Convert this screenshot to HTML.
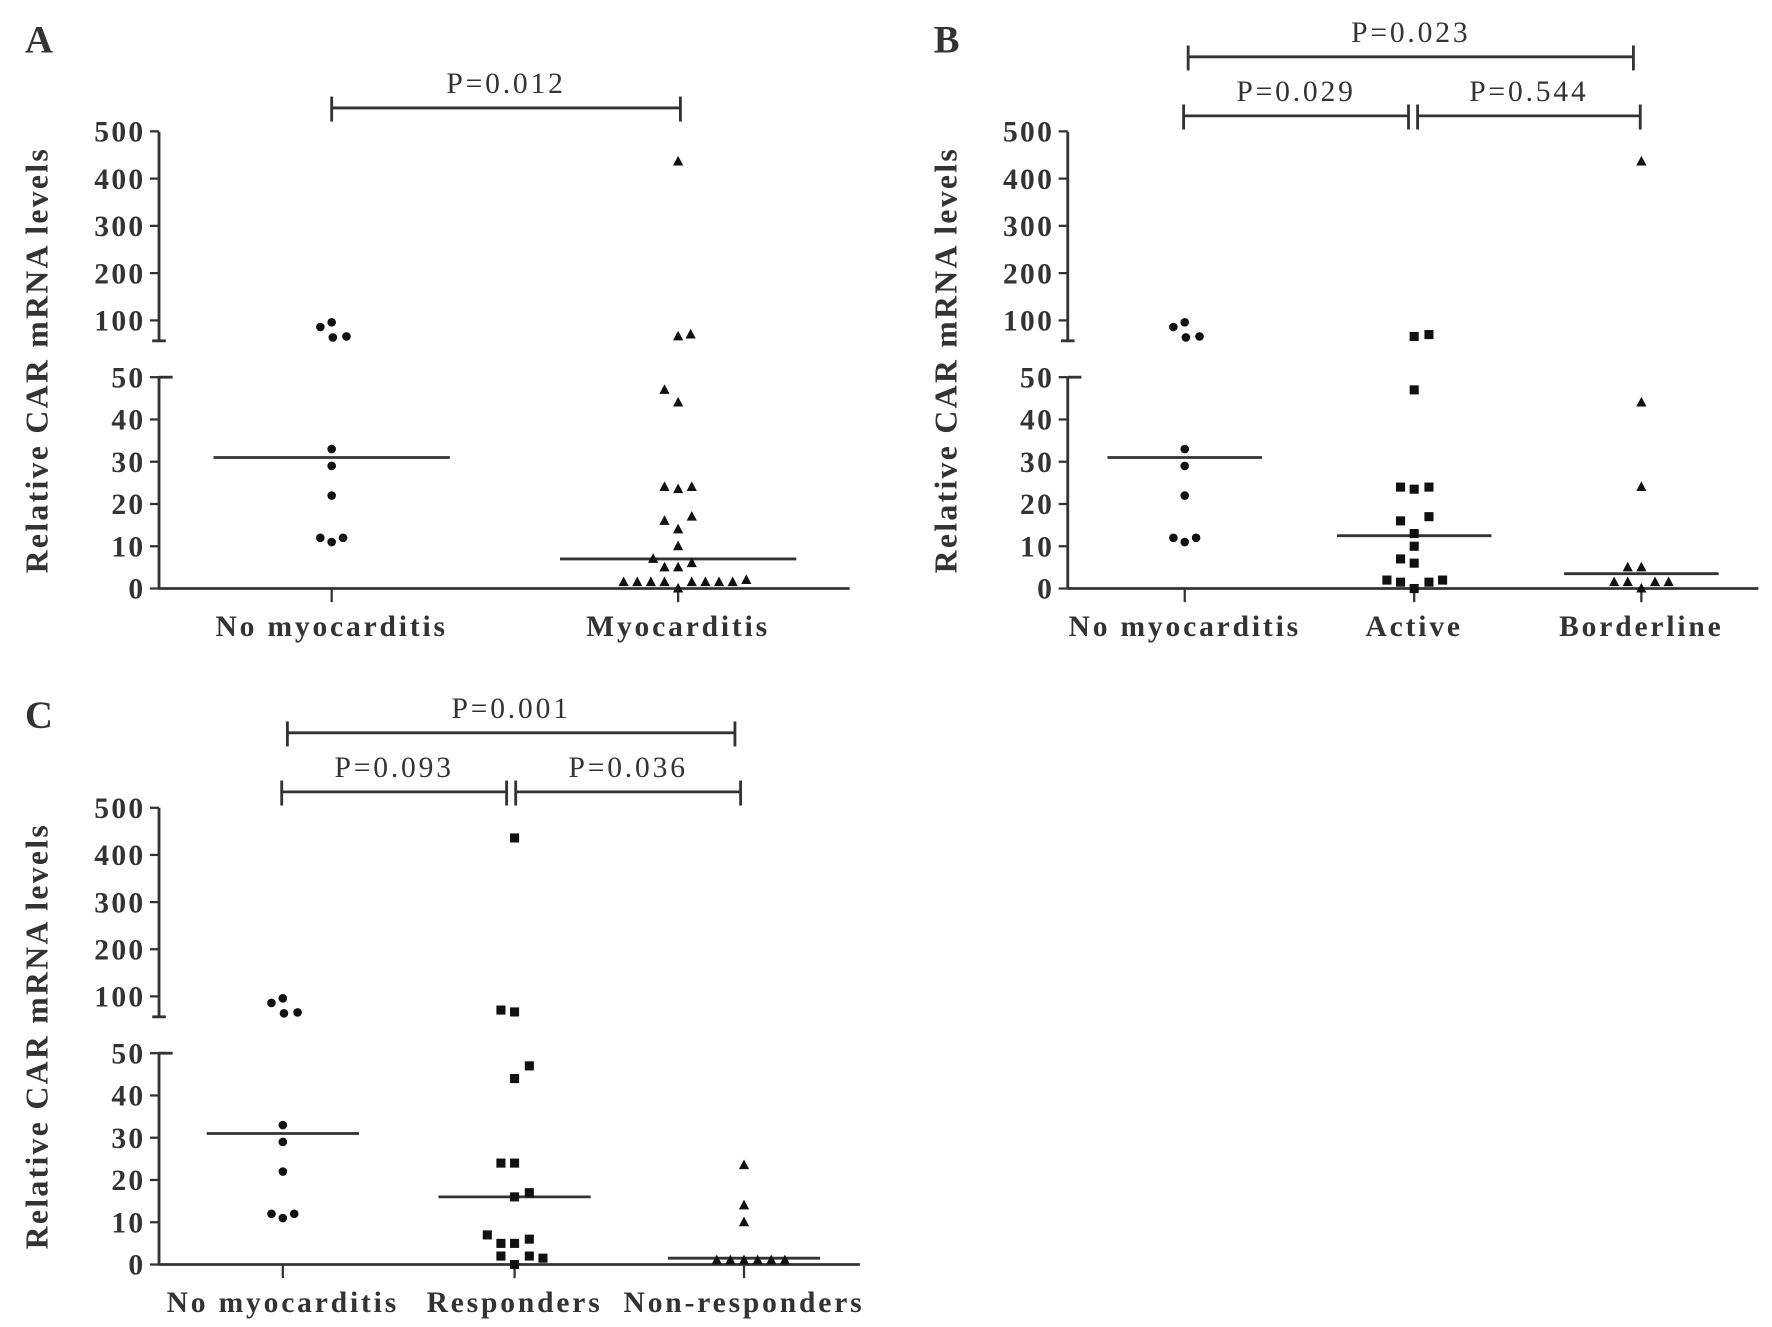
<!DOCTYPE html>
<html><head><meta charset="utf-8"><style>
html,body{margin:0;padding:0;background:#fff;}
svg{display:block;}
text{font-family:"Liberation Serif",serif;fill:#333;}
</style></head><body>
<svg id="fig" width="1772" height="1327" viewBox="0 0 1560 1168" preserveAspectRatio="none" xmlns="http://www.w3.org/2000/svg"></svg>
<script>
// ---- data (value, x-offset jitter in px) ----
const noMyoValues = [86,96,64,66,33,29,22,12,11,12];
const noMyoJitter = [-10,0,1,13,0,0,0,-10,0,10];
const myoValues = [436,66,70,47,44,24,23.5,24,17,16,14,10,7,5,5,6,1.5,1.5,1.5,1.5,0,1.5,1.5,1.5,1.5,2];
const myoJitter = [0,0,11,-12,0,-12,0,12,12,-12,0,0,-22,-12,0,12,-48,-36,-24,-12,0,12,24,36,48,60];
const activeValues = [66,70,47,24,23.5,24,17,16,13,10,7,6,2,1.5,0,1.5,2];
const activeJitter = [0,13,0,-12,0,13,13,-12,0,0,-12,0,-24,-12,0,13,25];
const borderValues = [436,44,24,5,5,1.5,1.5,0,1.5,1.5];
const borderJitter = [0,0,0,-12,0,-24,-12,0,12,24];
const respValues = [436,71,67,47,44,24,24,17,16,7,5,5,6,2,0,2,1.5];
const respJitter = [0,-12,0,13,0,-12,0,13,0,-24,-12,0,13,-12,0,13,25];
const nonRespValues = [23.5,14,10,1,1,1,1,1,1];
const nonRespJitter = [0,0,0,-24,-12,0,12,24,36];
const mediansA = [31,7];
const mediansB = [31,12.5,3.5];
const mediansC = [31,16,1.5];
const lowTicks = [0,10,20,30,40,50];
const highTicks = [100,200,300,400,500];

const svg = document.getElementById('fig');
const NS = 'http://www.w3.org/2000/svg';
function el(tag, attrs, parent){
  const e = document.createElementNS(NS, tag);
  for (const k in attrs) e.setAttribute(k, attrs[k]);
  (parent||svg).appendChild(e); return e;
}
function panel(cfg){
  const g = el('g', {});
  
  
  const y = v => v <= 50 ? cfg.y0 - v*(cfg.y0-cfg.y50)/50 : (v < 100 ? cfg.y100 + (100-v)*cfg.hs/100 : cfg.y100 - (v-100)*cfg.hs/100);
  const c = '#333';
  const L = el('text', {x:cfg.ax-118, y:cfg.y500-70, 'font-size':34, 'font-weight':'bold'}, g);
  L.textContent = cfg.letter;
  
  
  el('line', {x1:cfg.ax, y1:cfg.y0, x2:cfg.ax, y2:cfg.y50, stroke:c, 'stroke-width':2.5}, g);
  el('line', {x1:cfg.ax, y1:cfg.y50, x2:cfg.ax+12, y2:cfg.y50, stroke:c, 'stroke-width':2.5}, g);
  el('line', {x1:cfg.ax, y1:cfg.yb, x2:cfg.ax, y2:cfg.y500, stroke:c, 'stroke-width':2.5}, g);
  el('line', {x1:cfg.ax-6, y1:cfg.yb, x2:cfg.ax+6, y2:cfg.yb, stroke:c, 'stroke-width':2.5}, g);
  el('line', {x1:cfg.ax, y1:cfg.y0, x2:cfg.axEnd, y2:cfg.y0, stroke:c, 'stroke-width':2.5}, g);
  const ticks = lowTicks.concat(highTicks);
  ticks.forEach(t=>{
    const yy = t<=50 ? y(t) : cfg.y100 - (t-100)*cfg.hs/100;
    el('line', {x1:cfg.ax-8, y1:yy, x2:cfg.ax, y2:yy, stroke:c, 'stroke-width':2}, g);
    const tx = el('text', {x:cfg.ax-12, y:yy+9, 'font-size':26, 'font-weight':'bold', 'text-anchor':'end', 'letter-spacing':'2'}, g);
    tx.textContent = t;
    
    
  });
  const yt = el('text', {x:0, y:0, 'font-size':28, 'font-weight':'bold', 'text-anchor':'middle', 'letter-spacing':'2', transform:`translate(${cfg.ax-98},${(cfg.y0+cfg.y500)/2}) rotate(-90)`}, g);
  yt.textContent = 'Relative CAR mRNA levels';
  
  
  cfg.groups.forEach((gr, i)=>{
    const cx = cfg.cats[i];
    el('line', {x1:cx, y1:cfg.y0, x2:cx, y2:cfg.y0+12, stroke:c, 'stroke-width':2}, g);
    const ct = el('text', {x:cx, y:cfg.y0+42, 'font-size':26, 'font-weight':'bold', 'text-anchor':'middle', 'letter-spacing':'2.5'}, g);
    ct.textContent = gr.name;
    
    
    const m = el('line', {x1:cx-cfg.mw, y1:y(cfg.medians[i]), x2:cx+cfg.mw, y2:y(cfg.medians[i]), stroke:c, 'stroke-width':2.5}, g);
    
    
    gr.vals.forEach((v,j)=>{
      const px = cx + gr.jit[j], py = y(v);
      let mk;
      if (gr.shape==='circle') mk = el('circle', {cx:px, cy:py, r:3.8, fill:'#111'}, g);
      else if (gr.shape==='square') mk = el('rect', {x:px-4, y:py-4, width:8, height:8, fill:'#111'}, g);
      else mk = el('polygon', {points:`${px},${py-5} ${px-4.5},${py+3.5} ${px+4.5},${py+3.5}`, fill:'#111'}, g);
      
      
    });
  });
  cfg.brackets.forEach(b=>{
    el('line', {x1:b[0], y1:b[2], x2:b[1], y2:b[2], stroke:c, 'stroke-width':2.5}, g);
    el('line', {x1:b[0], y1:b[2]-10, x2:b[0], y2:b[2]+12, stroke:c, 'stroke-width':2.5}, g);
    el('line', {x1:b[1], y1:b[2]-10, x2:b[1], y2:b[2]+12, stroke:c, 'stroke-width':2.5}, g);
    const pt = el('text', {x:(b[0]+b[1])/2, y:b[2]-13, 'font-size':26, 'text-anchor':'middle', 'letter-spacing':'2.5'}, g);
    pt.textContent = b[3];
    
    
  });
}
panel({letter:'A', ax:140, axEnd:748, y0:518, y50:332, y100:282, hs:41.6, y500:116, yb:300, mw:104,
  cats:[292,597], medians:mediansA,
  groups:[{name:'No myocarditis', vals:noMyoValues, jit:noMyoJitter, shape:'circle'},
          {name:'Myocarditis', vals:myoValues, jit:myoJitter, shape:'tri'}],
  brackets:[[292,599,95,'P=0.012']]});
panel({letter:'B', ax:940, axEnd:1548, y0:518, y50:332, y100:282, hs:41.6, y500:116, yb:300, mw:68,
  cats:[1043,1245,1445], medians:mediansB,
  groups:[{name:'No myocarditis', vals:noMyoValues, jit:noMyoJitter, shape:'circle'},
          {name:'Active', vals:activeValues, jit:activeJitter, shape:'square'},
          {name:'Borderline', vals:borderValues, jit:borderJitter, shape:'tri'}],
  brackets:[[1046,1438,50,'P=0.023'],[1042,1240,102,'P=0.029'],[1248,1444,102,'P=0.544']]});
panel({letter:'C', ax:140, axEnd:757, y0:1113, y50:927, y100:877, hs:41.5, y500:711, yb:895, mw:67,
  cats:[249,453,655], medians:mediansC,
  groups:[{name:'No myocarditis', vals:noMyoValues, jit:noMyoJitter, shape:'circle'},
          {name:'Responders', vals:respValues, jit:respJitter, shape:'square'},
          {name:'Non-responders', vals:nonRespValues, jit:nonRespJitter, shape:'tri'}],
  brackets:[[253,647,645,'P=0.001'],[248,446,697,'P=0.093'],[454,652,697,'P=0.036']]});
</script>
</body></html>
